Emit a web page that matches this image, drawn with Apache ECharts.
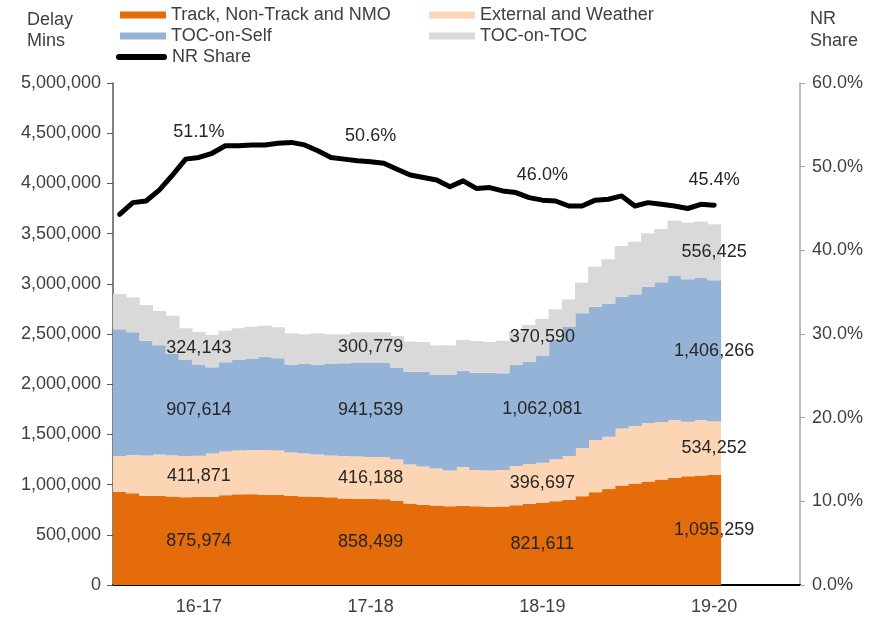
<!DOCTYPE html>
<html><head><meta charset="utf-8">
<script src="https://cdn.jsdelivr.net/npm/echarts@6/dist/echarts.min.js"></script>
<style>html,body{margin:0;padding:0;background:#fff}#c{width:873px;height:623px}</style>
</head><body><div id="c"></div>
<script>
// Financial years, 13 periods each
const years = ['16-17', '17-18', '18-19', '19-20'];
const periods = ['P01','P02','P03','P04','P05','P06','P07','P08','P09','P10','P11','P12','P13'];

// Delay minutes by period (moving annual totals)
const trackNonTrackNMO = [
  929000, 913000, 888000, 890000, 882000, 875000, 875974, 878000, 895000, 903000, 905000, 900000, 897000,
  888000, 882000, 880000, 873000, 862000, 856000, 858499, 855000, 838000, 812000, 800000, 792000, 784000,
  790000, 784000, 780000, 782000, 795000, 808000, 821611, 835000, 850000, 885000, 925000, 955000, 990000,
  1010000, 1030000, 1050000, 1068000, 1082000, 1090000, 1095259
];
const externalWeather = [
  356000, 382000, 402000, 410000, 411000, 410000, 411871, 432000, 435000, 437000, 440000, 445000, 443000,
  432000, 428000, 420000, 417000, 423000, 424000, 416188, 420000, 412000, 388000, 380000, 368000, 356000,
  385000, 361000, 360000, 363000, 390000, 397000, 396697, 417000, 435000, 476000, 519000, 522000, 570000,
  574000, 580000, 570000, 575000, 545000, 553000, 534252
];
const tocOnSelf = [
  1262000, 1222000, 1144000, 1087000, 1008000, 956000, 907614, 858000, 888000, 901000, 906000, 929000, 918000,
  871000, 891000, 891000, 911000, 923000, 931000, 941539, 936000, 915000, 925000, 945000, 932000, 952000,
  960000, 970000, 975000, 963000, 1006000, 1019000, 1062081, 1188000, 1285000, 1345000, 1328000, 1323000, 1312000,
  1311000, 1361000, 1395000, 1439000, 1418000, 1419000, 1406266
];
const tocOnToc = [
  351000, 348000, 355000, 342000, 381000, 316000, 324143, 322000, 315000, 316000, 322000, 309000, 309000,
  316000, 296000, 316000, 296000, 289000, 306000, 300779, 306000, 315000, 300000, 295000, 295000, 295000,
  305000, 315000, 305000, 325000, 332000, 366000, 370590, 306000, 275000, 305000, 399000, 444000, 504000,
  524000, 532000, 531000, 547000, 564000, 557000, 556425
];
// Network Rail share of delay (%)
const nrShare = [
  44.3, 45.7, 45.9, 47.2, 49.0, 50.9, 51.1, 51.6, 52.5, 52.5, 52.6, 52.6, 52.8,
  52.9, 52.6, 51.9, 51.1, 50.9, 50.7, 50.6, 50.4, 49.7, 49.0, 48.7, 48.4, 47.6,
  48.3, 47.4, 47.5, 47.1, 46.9, 46.3, 46.0, 45.9, 45.3, 45.3, 46.0, 46.1, 46.5,
  45.3, 45.7, 45.5, 45.3, 45.0, 45.5, 45.4
];
const leftTicks = { min: 0, max: 5000000, step: 500000 };
const rightTicks = { min: 0, max: 60, step: 10 };

const categories = [];
years.forEach(y => periods.forEach(p => categories.push(y + ' ' + p)));

const FONT = "'Liberation Sans', Arial, sans-serif";
const TXT = '#404040';
const fmtNum = v => Math.round(v).toLocaleString('en-US');
const labelIdx = i => i % 13 === 6;

const barNames = ['Track, Non-Track and NMO', 'External and Weather', 'TOC-on-Self', 'TOC-on-TOC'];
const barData = [trackNonTrackNMO, externalWeather, tocOnSelf, tocOnToc];
const barColors = ['#E46C0A', '#FCD5B5', '#95B3D7', '#D9D9D9'];

const series = barNames.map((n, k) => ({
  name: n, type: 'bar', stack: 'delay', yAxisIndex: 0,
  barWidth: 14,
  itemStyle: { color: barColors[k] },
  emphasis: { disabled: true },
  label: {
    show: true, position: 'inside', color: '#262626', fontSize: 18, fontFamily: FONT,
    textBorderWidth: 0,
    formatter: p => labelIdx(p.dataIndex) ? fmtNum(p.value) : ''
  },
  data: barData[k]
}));
series.push({
  name: 'NR Share', type: 'line', yAxisIndex: 1, z: 10,
  symbol: 'circle', symbolSize: 1, showSymbol: true,
  lineStyle: { color: '#000', width: 5, join: 'round', cap: 'round' },
  itemStyle: { color: '#000' },
  emphasis: { disabled: true },
  label: {
    show: true, position: 'top', distance: 16, color: '#262626', fontSize: 18, fontFamily: FONT,
    formatter: p => labelIdx(p.dataIndex) ? p.value.toFixed(1) + '%' : ''
  },
  data: nrShare
});

const legendBase = {
  padding: 0, itemGap: 0, selectedMode: false,
  textStyle: { color: TXT, fontSize: 18, fontFamily: FONT, lineHeight: 20 }
};
const legends = [
  Object.assign({}, legendBase, { left: 120, top: 5, itemWidth: 46, itemHeight: 7, icon: 'rect', data: [barNames[0]] }),
  Object.assign({}, legendBase, { left: 429, top: 5, itemWidth: 46, itemHeight: 7, icon: 'rect', data: [barNames[1]] }),
  Object.assign({}, legendBase, { left: 120, top: 26, itemWidth: 46, itemHeight: 7, icon: 'rect', data: [barNames[2]] }),
  Object.assign({}, legendBase, { left: 429, top: 26, itemWidth: 46, itemHeight: 7, icon: 'rect', data: [barNames[3]] }),
  Object.assign({}, legendBase, { left: 116, top: 47, itemWidth: 51, itemHeight: 6,
    icon: 'path://M3,0 L48,0 A3,3 0 0 1 48,6 L3,6 A3,3 0 0 1 3,0 Z', data: ['NR Share'] })
];

const chart = echarts.init(document.getElementById('c'), null, { renderer: 'canvas' });
chart.setOption({
  animation: false,
  backgroundColor: '#fff',
  textStyle: { fontFamily: FONT },
  legend: legends,
  grid: { left: 113, right: 73, top: 83, bottom: 38, containLabel: false },
  graphic: [
    { type: 'text', left: 27, top: 10, style: { text: 'Delay\nMins', font: '18px ' + FONT, fill: TXT, lineHeight: 21 } },
    { type: 'text', right: 15, top: 8, style: { text: 'NR\nShare', font: '18px ' + FONT, fill: TXT, lineHeight: 22, align: 'right' } }
  ],
  xAxis: {
    type: 'category', data: categories, boundaryGap: true,
    axisLine: { show: true, lineStyle: { color: '#000', width: 2 } },
    axisTick: { show: false },
    axisLabel: {
      interval: (i) => labelIdx(i), color: TXT, fontSize: 18, fontFamily: FONT, margin: 13,
      formatter: v => v.split(' ')[0]
    },
    splitLine: { show: false }
  },
  yAxis: [
    {
      type: 'value', min: leftTicks.min, max: leftTicks.max, interval: leftTicks.step,
      axisLine: { show: true, lineStyle: { color: '#595959', width: 1.5 } },
      axisTick: { show: true, length: 6, lineStyle: { color: '#595959', width: 1 } },
      axisLabel: { color: TXT, fontSize: 18, fontFamily: FONT, margin: 12, formatter: v => fmtNum(v) },
      splitLine: { show: false }
    },
    {
      type: 'value', position: 'right', min: rightTicks.min, max: rightTicks.max, interval: rightTicks.step,
      axisLine: { show: true, lineStyle: { color: '#A6A6A6', width: 1.5 } },
      axisTick: { show: true, length: 5, lineStyle: { color: '#A6A6A6', width: 1 } },
      axisLabel: { color: TXT, fontSize: 18, fontFamily: FONT, margin: 12, formatter: v => v.toFixed(1) + '%' },
      splitLine: { show: false }
    }
  ],
  series: series
});
</script>
</body></html>
